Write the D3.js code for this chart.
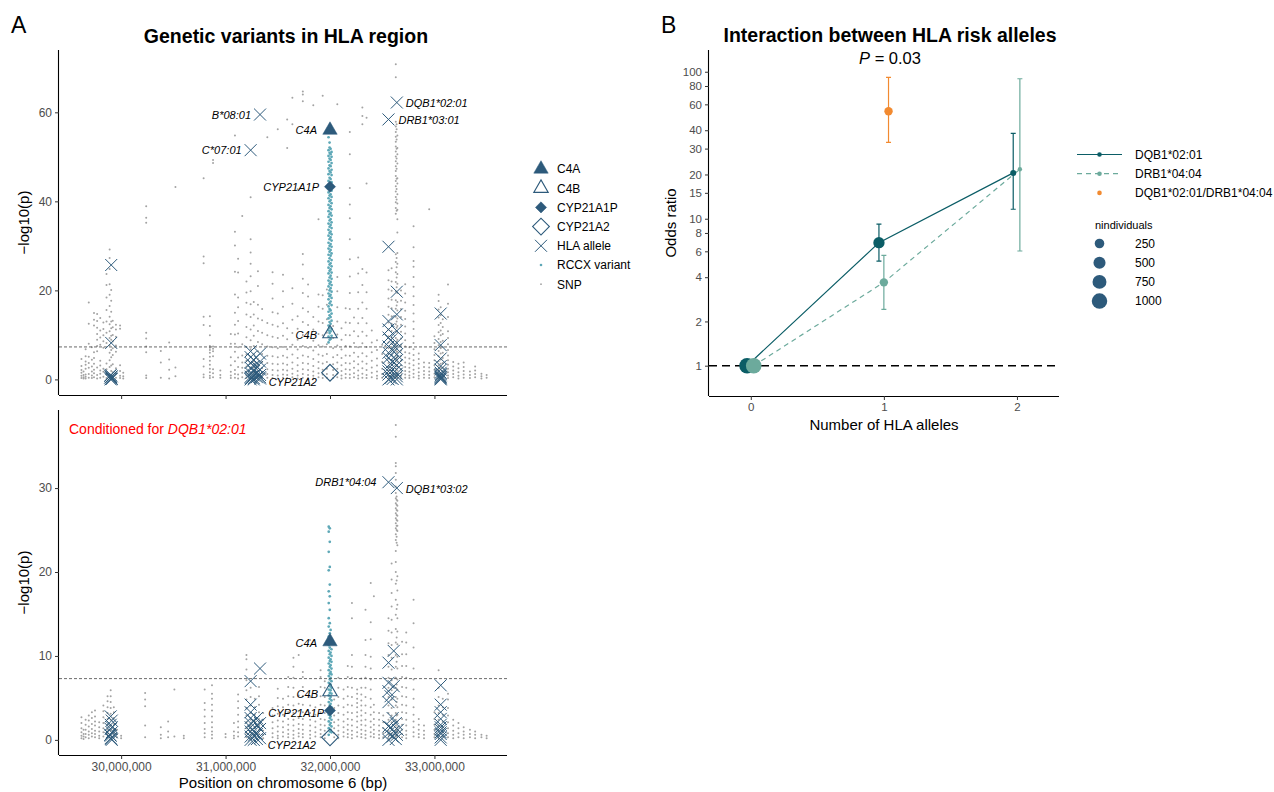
<!DOCTYPE html>
<html>
<head>
<meta charset="utf-8">
<script src="https://cdn.jsdelivr.net/npm/d3@7"></script>
<style>
body { margin: 0; background: #fff; }
svg { font-family: "Liberation Sans", Arial, Helvetica, sans-serif; }
</style>
</head>
<body>
<script>
// ---------- Panel A data (positions in Mb, values are -log10(p)) ----------
var xTicksA = [30, 31, 32, 33];
var yTicksTop = [0, 20, 40, 60];
var yTicksBottom = [0, 10, 20, 30];
var gwsLine = 7.3;

// SNP columns
var snpTop = [
  [29.62, [0.3, 0.8, 1.5, 2.1, 3.0, 4.6]],
  [29.64, [0.2, 0.5, 1.0, 1.8]],
  [29.66, [0.2, 0.6, 1.1, 2.4, 3.3, 4.0, 5.2, 6.8]],
  [29.69, [0.4, 1.2, 2.6, 3.7, 5.1, 8.0, 12.5, 17.3]],
  [29.72, [0.3, 0.9, 1.8, 2.9, 4.4, 7.2]],
  [29.74, [0.5, 1.4, 2.2, 3.5, 4.8, 6.1, 12.1, 13.4, 14.9]],
  [29.77, [0.2, 1.0, 2.7, 6.3, 7.5, 8.9, 10.2, 11.6, 13.1, 14.7]],
  [29.80, [0.4, 1.3, 2.0, 3.1, 4.2, 7.8, 9.4, 11.0, 13.8]],
  [29.83, [0.6, 1.7, 2.4, 7.1, 8.6, 9.9, 11.3, 12.8]],
  [29.86, [0.3, 1.1, 2.3, 3.6, 8.2, 10.5, 13.0, 15.6, 18.4, 21.2, 23.7]],
  [29.89, [0.5, 1.2, 2.8, 4.3, 6.0, 7.7, 9.3, 10.8, 12.4, 14.1, 16.5, 19.0, 21.4, 24.8, 27.3, 29.2]],
  [29.905, [0.1, 0.7, 1.9, 3.1, 5.0, 6.6, 8.9, 9.8, 11.5, 13.0, 15.2, 17.7, 20.1]],
  [29.92, [0.2, 0.9, 1.6, 3.4, 5.5, 7.0, 8.5, 10.0, 11.7, 13.2]],
  [29.95, [0.4, 1.4, 2.5, 6.2, 7.6, 9.6, 11.2, 12.3]],
  [29.99, [0.3, 0.8, 1.9, 3.2, 11.4, 12.1]],
  [30.02, [0.2, 0.7, 1.5]],
  [30.24, [0.3, 0.9, 6.1, 7.4, 9.2, 10.5, 35.2, 36.3, 38.9]],
  [30.38, [0.4, 3.8, 6.4]],
  [30.46, [0.2, 2.2, 4.5, 8.3]],
  [30.52, [0.7, 2.7, 43.2]],
  [30.79, [0.5, 1.1, 2.9, 4.6, 12.2, 14.1, 26.1, 27.6, 45.2]],
  [30.85, [0.3, 0.8, 1.6, 2.4, 3.3, 4.2, 5.1, 6.0, 6.6, 7.1, 7.5, 9.9, 12.0, 14.2]],
  [30.88, [0.5, 1.4, 2.3, 5.2, 6.3, 6.9, 7.4, 48.6, 49.3]],
  [30.95, [0.4, 1.0, 2.0]],
  [31.05, [0.3, 0.9, 1.7, 3.2, 5.0, 8.0, 10.2]],
  [31.09, [0.4, 1.2, 2.1, 4.1, 6.2, 8.0, 10.1, 12.3, 15.0, 19.1, 24.2, 30.1, 33.2, 54.8]],
  [31.12, [0.2, 1.1, 2.8, 4.9, 7.2, 10.3, 13.1, 16.2, 18.4, 24.0, 27.1]],
  [31.16, [0.5, 1.5, 2.6, 3.8, 5.4, 7.9, 36.7]],
  [31.20, [0.3, 0.9, 1.8, 2.9, 4.2, 5.6, 7.3, 9.5, 11.8, 14.6, 17.2, 19.5, 22.0]],
  [31.24, [0.4, 1.3, 2.4, 3.6, 5.1, 6.8, 8.8, 11.2, 14.0, 16.9, 19.8, 23.2, 26.0, 28.5, 31.5, 40.9]],
  [31.27, [0.2, 0.8, 1.6, 2.7, 4.0, 5.6, 7.5, 9.8, 12.1, 14.6, 17.4]],
  [31.31, [0.3, 1.0, 1.9, 3.2, 4.6, 6.3, 8.4, 10.9, 13.7, 16.8, 21.0, 24.3]],
  [31.35, [0.5, 1.4, 2.5, 3.9, 5.7, 7.9, 10.5, 13.3, 15.8]],
  [31.40, [0.4, 1.2, 2.3, 3.7, 5.3, 7.4, 9.9, 12.7, 54.4]],
  [31.45, [0.3, 1.0, 2.1, 3.5, 5.2, 7.2, 9.6, 12.3, 15.1, 18.2, 21.5, 24.1]],
  [31.50, [0.2, 0.9, 2.0, 3.4, 5.0, 7.0, 9.3, 11.9, 14.8, 56.2]],
  [31.55, [0.4, 1.1, 2.2, 3.6, 5.3, 7.3, 9.8, 12.6, 16.3, 19.8, 23.5]],
  [31.59, [0.3, 1.0, 2.0, 3.3, 4.9, 6.8, 9.0, 11.5, 52.0, 58.4]],
  [31.64, [0.5, 1.3, 2.4, 3.8, 5.6, 7.8, 10.4, 13.4, 17.0, 20.5, 57.3, 63.3]],
  [31.69, [0.2, 0.9, 1.9, 3.2, 4.8, 6.7, 8.9, 11.4, 14.2, 42.7]],
  [31.74, [0.4, 1.2, 2.3, 3.7, 5.4, 7.5, 10.0, 12.9, 16.0, 19.4, 22.6, 25.8, 28.2, 62.5, 64.0, 64.7]],
  [31.79, [0.3, 1.0, 2.1, 3.5, 5.1, 7.1, 9.5, 12.2, 15.2, 18.6, 21.3]],
  [31.84, [0.2, 0.8, 1.8, 3.0, 4.6, 6.5, 8.7, 11.2, 14.0, 61.6]],
  [31.89, [0.5, 1.4, 2.5, 3.9, 5.6, 7.7, 10.2, 13.0, 16.3, 19.1, 36.0]],
  [31.93, [0.3, 1.1, 2.2, 3.6, 5.3, 7.4, 9.9, 12.7, 15.9, 18.9, 63.7]],
  [31.97, [0.4, 1.2, 2.4, 3.9, 5.7, 7.9, 10.5, 13.5, 16.8, 20.2]],
  [32.03, [0.3, 1.0, 2.1, 3.4, 5.0, 7.0, 9.3, 12.0]],
  [32.07, [0.5, 1.3, 2.4, 3.8, 5.5, 7.6, 10.1, 13.0, 16.2, 19.8, 23.0, 61.8]],
  [32.11, [0.2, 0.9, 1.9, 3.2, 4.8, 6.7, 8.9, 11.5]],
  [32.15, [0.4, 1.2, 2.3, 3.7, 5.4, 7.5, 10.0, 12.8, 16.0]],
  [32.19, [0.3, 1.1, 2.2, 3.6, 5.3, 7.4, 9.9, 12.7, 15.8, 19.4, 23.1, 27.0, 31.5, 36.2, 39.3, 43.0, 50.6, 55.6]],
  [32.23, [0.5, 1.4, 2.6, 4.1, 6.0, 8.2, 10.8, 13.9]],
  [32.27, [0.2, 0.9, 2.0, 3.4, 5.1, 7.2, 9.7, 12.6, 15.9, 19.6, 23.8, 27.4]],
  [32.31, [0.4, 1.3, 2.5, 4.0, 5.9, 8.1, 10.7, 13.8, 17.3, 21.2, 24.8, 57.3, 59.2, 61.1]],
  [32.35, [0.3, 1.0, 2.1, 3.5, 5.2, 7.3, 9.8, 12.6, 15.9, 19.6, 24.0, 44.0, 58.8]],
  [32.40, [0.5, 1.5, 2.7, 4.2, 6.1, 8.3, 11.0]],
  [32.45, [0.2, 0.8, 1.8, 3.1, 4.7, 6.6, 8.8]],
  [32.50, [0.4, 1.2, 2.4, 3.9, 5.7, 7.8]],
  [32.56, [0.2, 0.7, 1.3, 2.0, 2.8, 3.7, 4.7, 5.8, 7.0, 8.3, 9.7, 11.2, 12.8, 14.5, 16.3, 18.2, 20.2, 22.3, 24.5]],
  [32.59, [0.4, 1.0, 1.7, 2.5, 3.4, 4.4, 5.5, 6.7, 8.0, 9.4, 10.9, 12.5, 14.2, 16.0, 17.9, 19.9, 22.0, 25.0]],
  [32.63, [0.3, 0.9, 1.6, 2.4, 3.3, 4.3, 5.4, 6.6, 7.9, 9.3, 10.8, 12.4, 14.1, 15.9, 17.8, 19.8, 21.9, 24.1, 26.4, 28.1,
           37.2, 38.5, 39.8, 41.0, 42.2, 43.4, 44.6, 45.7, 46.8, 47.9, 49.0, 50.1, 51.2, 52.3, 53.4, 54.5, 55.6, 56.8, 57.9, 67.9, 70.8]],
  [32.638, [0.6, 1.4, 3.0, 4.8, 6.2, 8.5, 11.6, 13.0, 16.6, 20.7, 22.9, 25.2, 27.3, 37.9, 40.4, 42.8, 45.1, 47.3, 49.6,
            51.8, 53.9, 56.2, 57.3]],
  [32.645, [0.5, 1.2, 2.0, 2.9, 3.9, 5.0, 6.2, 7.5, 8.9, 10.4, 12.0, 13.7, 15.5, 17.4, 19.4, 21.5, 23.7, 26.0, 28.4,
            33.0, 36.0, 38.1, 39.5, 41.6, 44.0, 45.2, 48.5, 50.6, 52.0, 54.8]],
  [32.68, [0.2, 0.8, 1.5, 2.3, 3.2, 4.2, 5.3, 6.5, 7.8, 9.2, 10.7, 12.3, 14.0, 15.8, 17.7, 20.0]],
  [32.72, [0.4, 1.1, 1.9, 2.8, 3.8, 4.9, 6.1, 7.4, 8.8, 10.3, 11.9, 13.6, 15.4, 17.3, 19.3, 21.4]],
  [32.76, [0.3, 0.9, 1.7, 2.6, 3.6, 4.7, 5.9, 7.2]],
  [32.80, [0.5, 1.3, 2.2, 3.2, 4.3, 5.5, 6.8, 8.2, 9.7, 11.3, 13.0, 14.8, 16.7, 18.7, 20.8, 23.0, 25.3, 26.6, 29.7, 34.4]],
  [32.85, [0.2, 0.8, 1.6, 2.5, 3.5, 4.6, 5.8]],
  [32.90, [0.4, 1.1, 1.9, 2.8, 3.8]],
  [32.95, [0.3, 1.0, 1.8, 2.7, 3.7, 38.2]],
  [33.00, [0.5, 1.3, 2.2, 3.2, 4.3, 5.5, 6.8, 8.2, 9.7]],
  [33.04, [0.2, 0.7, 1.4, 2.2, 3.1, 4.1, 5.2, 6.4, 7.7, 9.1, 10.6, 12.2, 13.9, 15.7, 17.6, 19.0]],
  [33.06, [0.5, 1.1, 2.6, 3.5, 4.5, 5.8, 7.0, 8.4, 9.9, 11.0, 12.7, 14.4, 16.2]],
  [33.08, [0.4, 1.0, 1.8, 2.7, 3.7, 4.8, 6.0, 7.3, 8.7, 10.2, 11.8, 13.5]],
  [33.13, [0.3, 0.9, 1.6, 2.4, 3.3, 4.3, 5.4, 6.6, 7.9, 9.3, 10.8, 14.0, 17.0, 21.3]],
  [33.18, [0.5, 1.2, 2.0, 2.9, 3.9]],
  [33.23, [0.2, 0.8, 1.6, 2.5, 3.5]],
  [33.28, [0.4, 1.1, 1.9, 2.8, 3.8]],
  [33.34, [0.3, 1.0, 1.8]],
  [33.39, [0.5, 1.2, 2.0, 2.9]],
  [33.45, [0.2, 0.7, 1.3]],
  [33.50, [0.4, 1.0]]
];

var rccxTop = [
  [31.986, [8.3, 9.6, 11.0, 12.1, 13.7, 15.2, 16.4, 18.0, 19.3, 20.9, 22.2, 23.8, 25.1, 26.5, 28.0, 29.4, 30.7, 32.3,
            33.6, 35.0, 36.5, 37.8, 39.2, 40.7, 42.0, 44.6, 46.1, 47.4, 48.9, 50.2, 51.5, 54.4]],
  [31.996, [8.9, 10.4, 11.6, 12.9, 14.4, 15.8, 17.1, 18.7, 20.0, 21.5, 22.9, 24.4, 25.8, 27.2, 28.7, 30.0, 31.5, 32.9,
            34.3, 35.7, 37.1, 38.5, 40.0, 41.3, 42.8, 45.3, 46.8, 48.1, 49.6, 50.9, 52.1, 53.2]],
  [32.006, [9.1, 10.8, 12.5, 14.0, 15.5, 17.5, 19.0, 20.5, 21.9, 23.3, 24.7, 26.1, 27.8, 29.1, 30.4, 31.9, 33.2, 34.7,
            36.0, 37.4, 38.9, 40.3, 41.6, 43.9, 45.0, 46.5, 47.9, 49.3, 50.6, 51.8]],
  [32.015, [9.8, 11.3, 13.2, 14.8, 16.7, 18.3, 19.7, 21.2, 22.6, 24.0, 25.4, 26.8, 28.3, 29.8, 31.2, 32.6, 34.0, 35.3,
            36.8, 38.2, 39.6, 41.0, 42.4, 43.5, 44.3, 45.9, 47.1, 48.6, 50.0, 51.1]]
];

var hlaTop = [
  [29.905, 25.7], [29.905, 8.2], [29.9, 1.0], [29.91, 0.7], [29.895, 0.4], [29.905, 0.2], [29.9, 0], [29.91, 0.1],
  [29.895, 0.8], [29.905, 0.5],
  [31.24, 6.3], [31.24, 5.0], [31.24, 3.7], [31.24, 2.6], [31.24, 1.4], [31.24, 0.6], [31.24, 0], [31.24, 0.3],
  [31.27, 4.4], [31.27, 3.0], [31.27, 1.8], [31.27, 0.9], [31.27, 0.3], [31.30, 1.5], [31.30, 0.5], [31.30, 2.8],
  [31.33, 5.8], [31.33, 4.0], [31.33, 2.2], [31.33, 1.0], [31.33, 0.2], [31.27, 0], [31.33, 0.5],
  [32.56, 29.8], [32.64, 19.7], [32.64, 14.6], [32.56, 13.1], [32.56, 11.2], [32.64, 10.9], [32.56, 9.4],
  [32.64, 8.2], [32.56, 7.4], [32.60, 6.5], [32.64, 5.6], [32.56, 4.8], [32.60, 4.0], [32.64, 3.2],
  [32.56, 2.5], [32.62, 1.8], [32.56, 1.1], [32.64, 0.7], [32.58, 0.3], [32.56, 0], [32.64, 0],
  [32.56, 6.0], [32.64, 6.9], [32.58, 8.8], [32.64, 4.3], [32.58, 3.6], [32.56, 1.8], [32.64, 1.3], [32.60, 0.1],
  [33.06, 14.8], [33.06, 7.7], [33.06, 4.7], [33.06, 3.0], [33.06, 1.5], [33.06, 0.9], [33.06, 0.4], [33.06, 0],
  [33.06, 2.2], [33.06, 1.2], [33.06, 0.2], [33.06, 0.6]
];

var allelesTop = [
  { name: "B*08:01", pos: 31.33, p: 59.5 },
  { name: "C*07:01", pos: 31.24, p: 51.5 },
  { name: "DQB1*02:01", pos: 32.64, p: 62.2 },
  { name: "DRB1*03:01", pos: 32.56, p: 58.4 }
];

var genesTop = [
  { gene: "C4A", pos: 32.0, p: 56.0 },
  { gene: "C4B", pos: 32.0, p: 10.3 },
  { gene: "CYP21A1P", pos: 32.0, p: 43.3 },
  { gene: "CYP21A2", pos: 32.0, p: 1.5 }
];

// conditioned on DQB1*02:01
var snpBottom = [
  [29.62, [0.2, 0.5, 0.9, 1.4, 2.0, 2.7]],
  [29.64, [0.1, 0.4, 0.7, 1.2]],
  [29.66, [0.3, 0.7, 1.2, 1.8, 2.4]],
  [29.69, [0.2, 0.6, 1.0, 1.6, 2.3, 2.9]],
  [29.72, [0.4, 0.8, 1.3, 1.9, 2.6, 3.3]],
  [29.75, [0.3, 0.7, 1.1, 1.7, 2.2, 2.8, 3.5]],
  [29.79, [0.2, 0.5, 1.0, 1.5, 2.1]],
  [29.83, [0.4, 0.9, 1.4, 2.0, 2.7, 3.4, 4.1]],
  [29.87, [0.3, 0.7, 1.2, 1.8, 2.5, 3.2, 3.9, 4.6, 5.2]],
  [29.90, [0.2, 0.6, 1.1, 1.7, 2.4, 3.1, 3.8, 4.5, 5.2, 5.9]],
  [29.93, [0.4, 0.8, 1.3, 1.9, 2.6, 3.3, 3.9]],
  [29.96, [0.3, 0.7, 1.2]],
  [30.00, [0.2, 0.5]],
  [30.23, [0.3, 1.7, 4.0, 4.8, 5.6]],
  [30.38, [0.2, 0.6, 1.5]],
  [30.45, [0.3, 1.0, 2.2]],
  [30.51, [0.4, 6.0]],
  [30.60, [0.2, 0.5]],
  [30.80, [0.3, 0.8, 1.3, 2.0, 2.8, 3.6, 4.4, 6.0]],
  [30.87, [0.2, 0.6, 1.0, 1.5, 2.1, 2.8, 3.5, 4.2, 4.9, 5.5, 6.5]],
  [31.00, [0.3, 0.7]],
  [31.08, [0.2, 0.5, 1.0, 2.0]],
  [31.12, [0.4, 0.9, 1.5, 2.2, 3.0, 3.8, 4.6, 5.4]],
  [31.20, [0.3, 0.8, 1.4, 2.1, 2.9, 3.8, 4.8, 5.9, 7.1, 8.4, 9.6, 10.1]],
  [31.24, [0.2, 0.6, 1.1, 1.7, 2.4, 3.2, 4.1, 5.1, 6.2]],
  [31.28, [0.4, 0.9, 1.5, 2.2, 3.0, 3.9, 4.9]],
  [31.32, [0.3, 0.7, 1.2, 1.8, 2.5, 3.3, 4.2, 5.2, 6.3]],
  [31.36, [0.2, 0.6, 1.1, 1.7, 2.4, 3.2]],
  [31.45, [0.3, 0.8, 1.4, 2.1, 2.9, 3.8]],
  [31.50, [0.2, 0.5, 1.0, 1.6, 2.3, 3.1, 4.0, 5.0, 6.1]],
  [31.55, [0.4, 0.9, 1.5, 2.2, 3.0, 3.9, 4.9]],
  [31.60, [0.3, 0.7, 1.2, 1.8, 2.5, 3.3, 4.2, 5.2, 6.3, 7.5]],
  [31.65, [0.2, 0.6, 1.1, 1.7, 2.4, 3.2, 4.1, 5.1, 6.2, 7.4, 8.7, 9.8]],
  [31.70, [0.4, 0.8, 1.3, 1.9, 2.6, 3.4, 4.3, 5.3, 10.1]],
  [31.74, [0.3, 0.7, 1.2, 1.8, 2.5, 3.3, 4.2, 5.2, 6.3, 7.5, 8.1]],
  [31.81, [0.2, 0.6, 1.1, 1.7, 2.4, 3.2, 4.1, 5.1, 11.9]],
  [31.86, [0.4, 0.9, 1.5, 2.2, 3.0, 3.9]],
  [31.91, [0.3, 0.7, 1.2, 1.8, 2.5, 3.3, 4.2, 5.2, 6.3, 7.5, 8.3]],
  [31.95, [0.2, 0.6, 1.1, 1.7, 2.4, 3.2, 4.1, 5.1, 6.2, 7.0]],
  [32.04, [0.3, 0.8, 1.4, 2.1, 2.9, 3.8, 4.8]],
  [32.08, [0.2, 0.6, 1.1, 1.7, 2.4, 3.2, 4.1, 5.1, 6.2, 7.4]],
  [32.13, [0.4, 0.9, 1.5, 2.2, 3.0, 3.9, 4.9, 6.0]],
  [32.17, [0.3, 0.7, 1.2, 1.8, 2.5, 3.3, 4.2, 5.2, 6.3, 7.5, 8.8]],
  [32.21, [0.2, 0.6, 1.1, 1.7, 2.4, 3.2, 4.1, 5.1, 6.2, 7.4, 8.7, 10.1, 14.5, 16.3]],
  [32.26, [0.4, 0.9, 1.5, 2.2, 2.8, 3.3, 3.9, 4.4, 4.9, 5.5, 6.0]],
  [32.30, [0.3, 0.7, 1.2, 1.8, 2.3, 2.9, 3.5, 4.1, 4.7, 5.4, 6.2, 7.3]],
  [32.34, [0.2, 0.6, 1.1, 1.7, 2.4, 3.2, 4.1, 5.1, 6.2, 7.4, 8.7, 10.1, 11.9, 15.5]],
  [32.39, [0.4, 0.9, 1.5, 2.2, 3.0, 3.9, 4.9, 6.0, 7.2, 8.5, 9.9, 12.0, 14.0, 18.7]],
  [32.42, [0.3, 0.7, 1.2, 1.8, 2.5, 3.3, 4.2, 17.1]],
  [32.47, [0.2, 0.6, 1.1, 1.7, 2.4, 3.2]],
  [32.51, [0.3, 0.8, 1.4, 2.1, 2.9]],
  [32.56, [0.2, 0.6, 1.1, 1.7, 2.4, 3.2, 4.1, 5.1, 6.2, 7.4, 8.7, 10.1, 11.5, 13.0, 14.5]],
  [32.59, [0.3, 0.8, 1.4, 2.1, 2.9, 3.8, 4.8, 5.9, 7.1, 8.4, 9.8, 11.3, 12.8, 14.3, 15.9, 17.5, 19.1, 21.0]],
  [32.63, [0.2, 0.6, 1.1, 1.7, 2.4, 3.2, 4.1, 5.1, 6.2, 7.4, 8.7, 10.1, 11.6, 13.2, 14.9, 16.7, 18.6, 20.0, 21.2,
           22.5, 23.8, 24.5, 25.2, 25.8, 26.4, 27.0, 27.6, 28.2, 28.8, 29.4, 30.2, 31.0, 31.8, 32.6, 33.0, 36.1, 37.5]],
  [32.638, [0.5, 1.3, 2.9, 4.5, 6.6, 9.3, 12.2, 15.6, 19.0, 23.5, 24.2, 25.0, 25.5, 26.2, 26.8, 27.4, 28.0, 28.6, 29.0]],
  [32.645, [0.4, 0.9, 1.5, 2.2, 3.0, 3.9, 4.9, 6.0, 7.2, 8.5, 9.9, 11.4, 12.9, 14.5, 16.1, 17.8, 19.5, 23.2, 24.9,
            25.5, 26.1, 26.7, 27.3, 27.9, 28.5]],
  [32.69, [0.3, 0.7, 1.2, 1.8, 2.5, 3.3, 4.2, 5.2, 6.3, 7.5, 8.8, 10.2, 11.7]],
  [32.73, [0.2, 0.6, 1.1, 1.7, 2.4, 3.2, 4.1, 5.1, 6.2, 7.4, 8.8, 10.2, 11.6, 12.8]],
  [32.80, [0.4, 0.9, 1.5, 2.2, 3.0, 3.9, 4.9, 6.0, 7.2, 8.5, 11.0, 13.9, 16.7]],
  [32.85, [0.3, 0.7, 1.2, 1.8, 2.5]],
  [32.90, [0.2, 0.6, 1.1, 1.7]],
  [33.00, [0.3, 0.7, 1.2, 1.8, 2.5, 3.3]],
  [33.04, [0.2, 0.6, 1.1, 1.7, 2.4, 3.2, 4.1, 5.1, 6.2, 8.3]],
  [33.08, [0.4, 0.9, 1.5, 2.2, 3.0, 3.9, 4.9]],
  [33.13, [0.3, 0.8, 1.4, 2.1, 2.9, 3.8, 4.8, 5.5]],
  [33.18, [0.2, 0.6, 1.1, 1.7, 2.4]],
  [33.23, [0.3, 0.8, 1.4, 2.0]],
  [33.28, [0.2, 0.6, 1.0, 1.5]],
  [33.34, [0.3, 0.7, 1.2]],
  [33.39, [0.2, 0.6, 1.0]],
  [33.45, [0.3, 0.6]],
  [33.50, [0.2, 0.5]]
];

var rccxBottom = [
  [31.988, [0.6, 1.4, 2.2, 3.0, 3.7, 4.5, 5.3, 6.0, 6.8, 7.6, 8.3, 9.1, 9.8, 10.6, 11.3, 12.3, 13.5, 14.5, 16.3, 17.7,
            20.2, 22.4, 24.8, 25.4]],
  [31.998, [1.0, 1.8, 2.6, 3.4, 4.1, 4.9, 5.6, 6.4, 7.2, 7.9, 8.7, 9.4, 10.2, 11.0, 11.8, 12.7, 13.9, 15.5, 17.1, 18.5,
            20.6, 23.6, 25.2]],
  [32.006, [1.2, 2.0, 2.8, 3.6, 4.3, 5.1, 5.9, 6.6, 7.4, 8.1, 8.9, 9.6, 10.4, 11.5, 12.1, 13.1]],
  [32.014, [0.9, 1.6, 2.4, 3.2, 3.9, 4.7, 5.5, 6.2, 7.0, 7.8, 8.5, 9.3, 10.0, 10.8, 11.9]]
];

var hlaBottom = [
  [29.90, 2.8], [29.91, 2.3], [29.90, 1.8], [29.90, 1.3], [29.91, 0.9], [29.90, 0.5], [29.90, 0.2], [29.91, 0],
  [29.895, 0.6], [29.905, 0.1], [29.91, 1.5],
  [31.33, 8.5], [31.24, 7.0], [31.24, 4.2], [31.24, 3.3], [31.24, 2.6], [31.27, 2.2], [31.30, 1.8], [31.24, 1.5],
  [31.33, 1.3], [31.27, 1.0], [31.30, 0.7], [31.24, 0.4], [31.33, 0.2], [31.27, 0], [31.24, 0],
  [31.30, 2.6], [31.33, 2.0], [31.24, 1.0], [31.27, 0.5], [31.30, 0.1], [31.24, 2.0],
  [32.61, 10.6], [32.56, 9.2], [32.56, 6.8], [32.61, 6.4], [32.56, 5.8], [32.58, 5.2], [32.56, 4.5], [32.60, 2.6],
  [32.63, 2.0], [32.58, 1.5], [32.65, 1.2], [32.56, 0.8], [32.60, 0.4], [32.63, 0.1], [32.56, 0],
  [32.64, 0.6], [32.56, 1.6], [32.61, 1.0],
  [33.06, 6.5], [33.06, 4.2], [33.06, 3.3], [33.06, 2.5], [33.06, 1.8], [33.06, 1.2], [33.06, 0.7], [33.06, 0.3], [33.06, 0],
  [33.06, 1.5], [33.06, 0.9]
];

var allelesBottom = [
  { name: "DRB1*04:04", pos: 32.56, p: 30.7 },
  { name: "DQB1*03:02", pos: 32.64, p: 30.0 }
];

var genesBottom = [
  { gene: "C4A", pos: 32.0, p: 11.7 },
  { gene: "C4B", pos: 32.0, p: 5.75 },
  { gene: "CYP21A1P", pos: 32.0, p: 3.5 },
  { gene: "CYP21A2", pos: 32.0, p: 0.3 }
];

// ---------- Panel B data ----------
var nAlleles = [0, 1, 2];
var orDQB = [1, 6.87, 20.5];
var loDQB = [null, 5.15, 11.6];
var hiDQB = [null, 9.2, 38.1];
var nDQB = [1020, 415, 60];
var orDRB = [1, 3.69, 21.7];
var loDRB = [null, 2.42, 6.03];
var hiDRB = [null, 5.64, 89.6];
var nDRB = [1020, 165, 40];
var orBoth = [53.8];
var loBoth = [33.1];
var hiBoth = [91.6];
var nBoth = [165];
var yTicksB = [1, 2, 4, 6, 8, 10, 15, 20, 30, 40, 60, 80, 100];
var sizeBreaks = [250, 500, 750, 1000];

// ---------- styles ----------
var colMarker = "#2d5a7b";
var colRccx = "#5ea8b7";
var colSnp = "#a3a3a3";
var colDQB = "#0b5d66";
var colDRB = "#6caa9c";
var colBoth = "#f28a30";

var svg = d3.select("body").append("svg")
  .attr("width", 1274)
  .attr("height", 792);

var xA = d3.scaleLinear().domain([29.405, 33.695]).range([59, 507]);
var yTop = d3.scaleLinear().domain([-3.5, 74]).range([395, 50]);
var yBot = d3.scaleLinear().domain([-1.8, 39.3]).range([755, 410]);

var geneShape = {
  "C4A": { type: d3.symbolTriangle, size: 90, fill: true, rot: 0 },
  "C4B": { type: d3.symbolTriangle, size: 90, fill: false, rot: 0 },
  "CYP21A1P": { type: d3.symbolSquare, size: 62, fill: true, rot: 45 },
  "CYP21A2": { type: d3.symbolSquare, size: 140, fill: false, rot: 45 }
};

// label offsets: [dx, dy, anchor]
var labelTop = {
  "B*08:01": [-9, 4, "end"], "C*07:01": [-9, 4, "end"],
  "DQB1*02:01": [9, 4, "start"], "DRB1*03:01": [10, 5, "start"],
  "C4A": [-13, 4, "end"], "C4B": [-13, 5, "end"], "CYP21A1P": [-11, 4, "end"], "CYP21A2": [-13, 13, "end"]
};
var labelBottom = {
  "DRB1*04:04": [-12, 4, "end"], "DQB1*03:02": [9, 5, "start"],
  "C4A": [-13, 5, "end"], "C4B": [-12, 6, "end"], "CYP21A1P": [-6, 6, "end"], "CYP21A2": [-14, 12, "end"]
};

function drawX(g, x, y) {
  g.append("path")
    .attr("d", "M" + (x - 6) + "," + (y - 6) + "L" + (x + 6) + "," + (y + 6) +
               "M" + (x - 6) + "," + (y + 6) + "L" + (x + 6) + "," + (y - 6))
    .attr("stroke", colMarker)
    .attr("stroke-width", 1)
    .attr("fill", "none");
}

function drawGene(g, name, x, y) {
  var s = geneShape[name];
  g.append("path")
    .attr("d", d3.symbol(s.type, s.size)())
    .attr("transform", "translate(" + x + "," + y + ") rotate(" + s.rot + ")")
    .attr("fill", s.fill ? colMarker : "none")
    .attr("stroke", colMarker)
    .attr("stroke-width", s.fill ? 0.5 : 1.1);
}

function manhattan(y, snp, rccx, hla, alleles, genes, labels, yTicks, showXLabels) {
  var g = svg.append("g");
  var top = y.range()[1], bottom = y.range()[0];

  snp.forEach(function(col) {
    g.selectAll(null).data(col[1]).enter().append("circle")
      .attr("cx", xA(col[0]))
      .attr("cy", function(d) { return y(d); })
      .attr("r", 1)
      .attr("fill", colSnp);
  });
  rccx.forEach(function(col) {
    g.selectAll(null).data(col[1]).enter().append("circle")
      .attr("cx", xA(col[0]))
      .attr("cy", function(d) { return y(d); })
      .attr("r", 1.35)
      .attr("fill", colRccx);
  });

  g.append("line")
    .attr("x1", xA.range()[0]).attr("x2", xA.range()[1])
    .attr("y1", y(gwsLine)).attr("y2", y(gwsLine))
    .attr("stroke", "#444")
    .attr("stroke-width", 0.8)
    .attr("stroke-dasharray", "3,2");

  hla.forEach(function(d) { drawX(g, xA(d[0]), y(d[1])); });
  alleles.forEach(function(d) { drawX(g, xA(d.pos), y(d.p)); });
  genes.forEach(function(d) { drawGene(g, d.gene, xA(d.pos), y(d.p)); });

  var lab = alleles.map(function(d) { return { t: d.name, x: xA(d.pos), y: y(d.p) }; })
    .concat(genes.map(function(d) { return { t: d.gene, x: xA(d.pos), y: y(d.p) }; }));
  g.selectAll(null).data(lab).enter().append("text")
    .attr("x", function(d) { return d.x + labels[d.t][0]; })
    .attr("y", function(d) { return d.y + labels[d.t][1]; })
    .attr("text-anchor", function(d) { return labels[d.t][2]; })
    .attr("font-size", 11)
    .attr("font-style", "italic")
    .attr("fill", "#000")
    .text(function(d) { return d.t; });

  var ax = g.append("g")
    .attr("transform", "translate(0," + bottom + ")")
    .call(d3.axisBottom(xA).tickValues(xTicksA).tickSize(4).tickPadding(3)
      .tickFormat(showXLabels ? function(d) { return d3.format(",")(d * 1e6); } : function() { return ""; }));
  var ay = g.append("g")
    .attr("transform", "translate(" + xA.range()[0] + ",0)")
    .call(d3.axisLeft(y).tickValues(yTicks).tickSize(4).tickPadding(3));
  [ax, ay].forEach(function(a) {
    a.select(".domain").attr("stroke", "#000").attr("stroke-width", 1.1);
    a.selectAll(".tick line").attr("stroke", "#333").attr("stroke-width", 1);
    a.selectAll(".tick text").attr("fill", "#4d4d4d").attr("font-size", 12)
      .attr("font-family", "Liberation Sans, Arial, sans-serif");
  });
  // axis lines end where the panel ends, without the outer ticks
  ax.select(".domain").attr("d", "M" + xA.range()[0] + ",0.5H" + xA.range()[1]);
  ay.select(".domain").attr("d", "M-0.5," + bottom + "V" + top);

  svg.append("text")
    .attr("transform", "translate(29," + ((top + bottom) / 2) + ") rotate(-90)")
    .attr("text-anchor", "middle")
    .attr("font-size", 15)
    .text("\u2212log10(p)");
}

manhattan(yTop, snpTop, rccxTop, hlaTop, allelesTop, genesTop, labelTop, yTicksTop, false);
manhattan(yBot, snpBottom, rccxBottom, hlaBottom, allelesBottom, genesBottom, labelBottom, yTicksBottom, true);

svg.append("text").attr("x", 11).attr("y", 33).attr("font-size", 23).text("A");
svg.append("text").attr("x", 286).attr("y", 43).attr("text-anchor", "middle")
  .attr("font-size", 19.5).attr("font-weight", "bold").text("Genetic variants in HLA region");
svg.append("text").attr("x", 283).attr("y", 788).attr("text-anchor", "middle")
  .attr("font-size", 15).text("Position on chromosome 6 (bp)");

var cond = svg.append("text").attr("x", 69).attr("y", 434).attr("font-size", 14).attr("fill", "#ff0000");
cond.append("tspan").text("Conditioned for ");
cond.append("tspan").attr("font-style", "italic").text("DQB1*02:01");

// legend A
var legA = [
  { label: "C4A", kind: "C4A" }, { label: "C4B", kind: "C4B" },
  { label: "CYP21A1P", kind: "CYP21A1P" }, { label: "CYP21A2", kind: "CYP21A2" },
  { label: "HLA allele", kind: "x" }, { label: "RCCX variant", kind: "rccx" }, { label: "SNP", kind: "snp" }
];
var lg = svg.append("g");
legA.forEach(function(d, i) {
  var yy = 169 + i * 19.2, xx = 541;
  if (geneShape[d.kind]) drawGene(lg, d.kind, xx, yy);
  else if (d.kind === "x") drawX(lg, xx, yy);
  else lg.append("circle").attr("cx", xx).attr("cy", yy)
    .attr("r", d.kind === "rccx" ? 1.3 : 0.9)
    .attr("fill", d.kind === "rccx" ? colRccx : colSnp);
  lg.append("text").attr("x", 557).attr("y", yy + 4.3).attr("font-size", 12).text(d.label);
});

// ---------- Panel B ----------
var xB = d3.scaleLinear().domain([-0.314, 2.316]).range([709, 1059]);
var yB = d3.scaleLog().domain([0.622, 140.6]).range([396, 50]);
var dodge2 = [-0.028, 0.022];
var dodge3 = [-0.037, 0, 0.035];

var allN = nDQB.concat(nDRB, nBoth);
var nMin = d3.min(allN), nMax = d3.max(allN);
var rLin = d3.scaleLinear().domain([0, 1]).range([2.2, 7.8]);
function radius(n) { return rLin(Math.sqrt((n - nMin) / (nMax - nMin))); }

function series(or, lo, hi, n, offs) {
  return nAlleles.slice(0, or.length).map(function(k, i) {
    return { x: k + offs[i], or: or[i], lo: lo[i], hi: hi[i], n: n[i] };
  });
}
var dqb = series(orDQB, loDQB, hiDQB, nDQB, [dodge2[0], dodge3[0], dodge2[0]]);
var drb = series(orDRB, loDRB, hiDRB, nDRB, [dodge2[1], dodge3[1], dodge2[1]]);
var both = [{ x: 1 + dodge3[2], or: orBoth[0], lo: loBoth[0], hi: hiBoth[0], n: nBoth[0] }];

var gB = svg.append("g");
gB.append("line")
  .attr("x1", 709).attr("x2", 1059)
  .attr("y1", yB(1)).attr("y2", yB(1))
  .attr("stroke", "#000").attr("stroke-width", 1.5).attr("stroke-dasharray", "8,5");

var line = d3.line().x(function(d) { return xB(d.x); }).y(function(d) { return yB(d.or); });

function drawSeries(data, col, dash) {
  gB.append("path").datum(data)
    .attr("d", line)
    .attr("fill", "none").attr("stroke", col).attr("stroke-width", 1.2)
    .attr("stroke-dasharray", dash);
  var eb = data.filter(function(d) { return d.lo !== null; });
  eb.forEach(function(d) {
    var x = xB(d.x);
    gB.append("path")
      .attr("d", "M" + (x - 2.5) + "," + yB(d.hi) + "H" + (x + 2.5) + "M" + x + "," + yB(d.hi) + "V" + yB(d.lo) +
                 "M" + (x - 2.5) + "," + yB(d.lo) + "H" + (x + 2.5))
      .attr("fill", "none").attr("stroke", col).attr("stroke-width", 1.2);
  });
}
drawSeries(dqb, colDQB, null);
drawSeries(drb, colDRB, "5,4");
drawSeries(both, colBoth, null);

[[dqb, colDQB], [drb, colDRB], [both, colBoth]].forEach(function(s) {
  gB.selectAll(null).data(s[0]).enter().append("circle")
    .attr("cx", function(d) { return xB(d.x); })
    .attr("cy", function(d) { return yB(d.or); })
    .attr("r", function(d) { return radius(d.n); })
    .attr("fill", s[1]);
});

var bx = gB.append("g").attr("transform", "translate(0,396)")
  .call(d3.axisBottom(xB).tickValues(nAlleles).tickFormat(d3.format("d")).tickSize(4).tickPadding(3));
var by = gB.append("g").attr("transform", "translate(709,0)")
  .call(d3.axisLeft(yB).tickValues(yTicksB).tickFormat(d3.format("d")).tickSize(4).tickPadding(3));
[bx, by].forEach(function(a) {
  a.select(".domain").attr("stroke", "#000").attr("stroke-width", 1.1);
  a.selectAll(".tick line").attr("stroke", "#333");
  a.selectAll(".tick text").attr("fill", "#4d4d4d").attr("font-size", 11.5)
    .attr("font-family", "Liberation Sans, Arial, sans-serif");
});
bx.select(".domain").attr("d", "M709,0.5H1059");
by.select(".domain").attr("d", "M-0.5,396V50");

svg.append("text").attr("x", 661).attr("y", 33).attr("font-size", 23).text("B");
svg.append("text").attr("x", 890).attr("y", 42).attr("text-anchor", "middle")
  .attr("font-size", 19.5).attr("font-weight", "bold").text("Interaction between HLA risk alleles");
var pt = svg.append("text").attr("x", 890).attr("y", 64).attr("text-anchor", "middle").attr("font-size", 16.5);
pt.append("tspan").attr("font-style", "italic").text("P");
pt.append("tspan").text(" = 0.03");
svg.append("text").attr("x", 884).attr("y", 430).attr("text-anchor", "middle")
  .attr("font-size", 15).text("Number of HLA alleles");
svg.append("text").attr("transform", "translate(676,223) rotate(-90)")
  .attr("text-anchor", "middle").attr("font-size", 15).text("Odds ratio");

// legend B
var legB = [
  { label: "DQB1*02:01", col: colDQB, dash: null, line: true },
  { label: "DRB1*04:04", col: colDRB, dash: "5,4", line: true },
  { label: "DQB1*02:01/DRB1*04:04", col: colBoth, dash: null, line: false }
];
var lb = svg.append("g");
legB.forEach(function(d, i) {
  var yy = 154.5 + i * 19.2;
  if (d.line) lb.append("line").attr("x1", 1077).attr("x2", 1122).attr("y1", yy).attr("y2", yy)
    .attr("stroke", d.col).attr("stroke-width", 1.2).attr("stroke-dasharray", d.dash);
  lb.append("circle").attr("cx", 1099.5).attr("cy", yy).attr("r", 2.3).attr("fill", d.col);
  lb.append("text").attr("x", 1135).attr("y", yy + 4.3).attr("font-size", 12).text(d.label);
});
lb.append("text").attr("x", 1095).attr("y", 229).attr("font-size", 11).text("nindividuals");
sizeBreaks.forEach(function(n, i) {
  var yy = 243.5 + i * 19.2;
  lb.append("circle").attr("cx", 1099.5).attr("cy", yy).attr("r", radius(n)).attr("fill", colMarker);
  lb.append("text").attr("x", 1135).attr("y", yy + 4.3).attr("font-size", 12).text(n);
});
</script>
</body>
</html>
